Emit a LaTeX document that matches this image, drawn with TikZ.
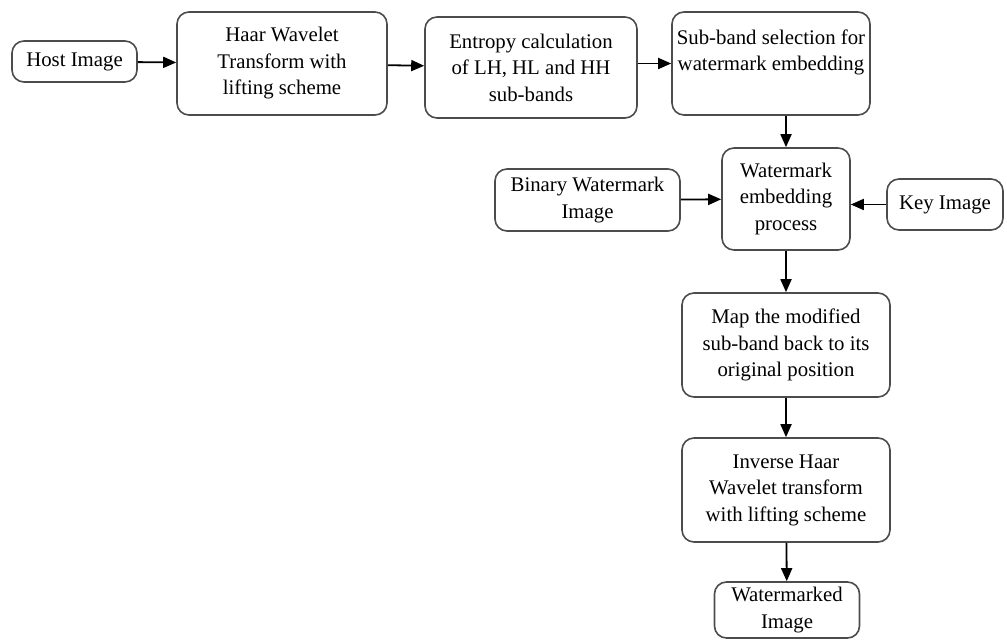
\documentclass[tikz,border=0pt]{standalone}
\usepackage{fontspec}
\setmainfont{Liberation Serif}
\usetikzlibrary{arrows.meta}
\begin{document}
\begin{tikzpicture}[x=0.5pt,y=-0.5pt,
  blockbox/.style={draw=black!70, line width=0.8pt, rounded corners=6pt, align=center,
    inner sep=0pt, font=\fontsize{10.4}{13.25}\selectfont},
  flow/.style={-{Triangle[length=6.5pt,width=5.5pt]}, line width=0.9pt}]
\useasboundingbox (0,0) rectangle (1007,640);

\node[blockbox, minimum width=62.5pt, minimum height=20.5pt] (host) at (74.5,61.5) {Host Image};
\node[blockbox, minimum width=105pt, minimum height=51.5pt] (haar) at (282,63.5) {Haar Wavelet\\Transform with\\lifting scheme};
\node[blockbox, minimum width=106pt, minimum height=50.5pt] (entropy) at (531,67.5) {Entropy calculation\\of LH, HL and HH\\sub-bands};
\node[blockbox, minimum width=99pt, minimum height=51.5pt] (select) at (771,63.5) {Sub-band selection for\\watermark embedding\\\mbox{}};

\node[blockbox, minimum width=64pt, minimum height=51pt] (embed) at (786,199) {Watermark\\embedding\\process};
\node[blockbox, minimum width=92.5pt, minimum height=31pt] (binary) at (587.5,200) {Binary Watermark\\Image};
\node[blockbox, minimum width=58pt, minimum height=25.5pt] (key) at (945,204.5) {Key Image};

\node[blockbox, minimum width=104pt, minimum height=52pt] (map) at (786,345) {Map the modified\\sub-band back to its\\original position};
\node[blockbox, minimum width=104pt, minimum height=52pt] (inverse) at (786,490) {Inverse Haar\\Wavelet transform\\with lifting scheme};
\node[blockbox, minimum width=72.5pt, minimum height=28pt] (marked) at (787,610) {Watermarked\\Image};

\draw[flow] (host) -- (haar);
\draw[flow] (haar) -- (entropy);
\draw[flow] (entropy.east |- select) -- (select);
\draw[flow] (select.south -| embed) -- (embed);
\draw[flow] (binary) -- (embed);
\draw[flow] (key.west) -- (key.west -| embed.east);
\draw[flow] (embed) -- (map);
\draw[flow] (map) -- (inverse);
\draw[flow] (inverse) -- (marked);
\end{tikzpicture}
\end{document}
